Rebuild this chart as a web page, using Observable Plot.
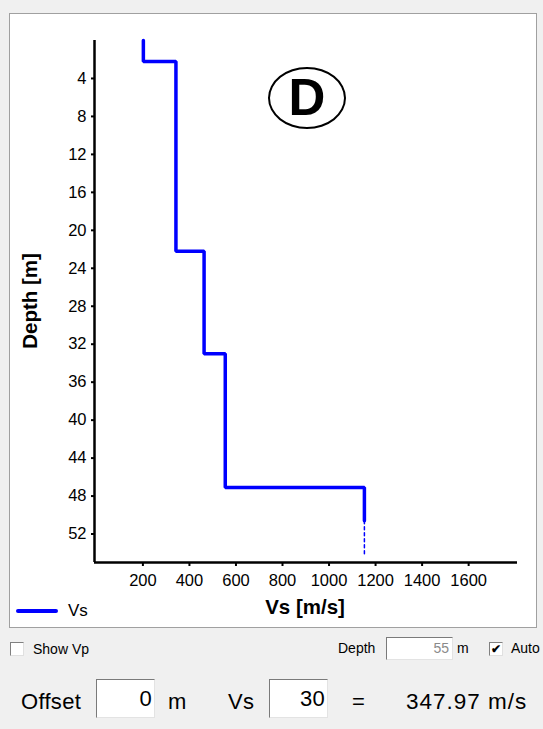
<!DOCTYPE html>
<html>
<head>
<meta charset="utf-8">
<script src="https://cdn.jsdelivr.net/npm/d3@7"></script>
<script src="https://cdn.jsdelivr.net/npm/@observablehq/plot@0.6"></script>
<style>
  html, body { margin: 0; padding: 0; background: #f0f0f0; }
  body { width: 543px; height: 729px; overflow: hidden; font-family: "Liberation Sans", Arial, sans-serif; }
  #wrap { position: relative; width: 543px; height: 729px; }
  #panel { position: absolute; left: 9px; top: 13px; width: 528px; height: 615px; background: #fff; border: 1px solid #a0a0a0; box-sizing: border-box; }
  #chart { position: absolute; left: 0; top: 0; }
  .abs { position: absolute; white-space: nowrap; color: #000; }
  .box { position: absolute; background: #fff; border-top: 1px solid #7a7a7a; border-left: 1px solid #7a7a7a; border-right: 1px solid #e3e3e3; border-bottom: 1px solid #e3e3e3; box-sizing: border-box; text-align: right; }
  .chk { position: absolute; width: 14px; height: 14px; background: #fff; border-top: 1px solid #808080; border-left: 1px solid #808080; border-right: 1px solid #e0e0e0; border-bottom: 1px solid #e0e0e0; box-sizing: border-box; font-size: 12px; line-height: 12px; text-align: center; font-weight: bold; }
</style>
</head>
<body>
<div id="wrap">
  <div id="panel"></div>
  <div id="chart"></div>
</div>
<script>
// ---- data ----
const layerTop    = [0, 2.2, 22.2, 33.0, 47.1];
const layerBottom = [2.2, 22.2, 33.0, 47.1, 50.6];
const layerVs     = [202, 342, 463, 554, 1152];
const halfSpaceDashEnd = 54.2;
const depthTicks = [4, 8, 12, 16, 20, 24, 28, 32, 36, 40, 44, 48, 52];
const vsTicks = [200, 400, 600, 800, 1000, 1200, 1400, 1600];
const depthMax = 55;
const vsDomain = [-8, 1810];
const seriesName = "Vs";
const xLabel = "Vs [m/s]";
const yLabel = "Depth [m]";
const badge = "D";
const offsetVal = "0";
const vsDepth = "30";
const vsResult = "347.97";
const depthField = "55";

// step profile points
const profile = [];
layerVs.forEach((v, i) => {
  profile.push({vs: v, depth: layerTop[i]});
  profile.push({vs: v, depth: layerBottom[i]});
});
const lastVs = layerVs[layerVs.length - 1];
const dashed = [
  {vs: lastVs, depth: layerBottom[layerBottom.length - 1]},
  {vs: lastVs, depth: halfSpaceDashEnd}
];

const chart = Plot.plot({
  width: 543,
  height: 729,
  marginLeft: 94,
  marginTop: 40,
  marginRight: 26,
  marginBottom: 167,
  style: {background: "transparent", fontFamily: "Liberation Sans, Arial, sans-serif", fontSize: "16.5px", color: "#000", overflow: "visible"},
  x: {domain: vsDomain},
  y: {domain: [0, depthMax], reverse: true},
  marks: [
    Plot.axisY({ticks: depthTicks, tickSize: 3, tickPadding: 5, label: null, strokeWidth: 2, tickFormat: d => String(d)}),
    Plot.axisX({ticks: vsTicks, tickSize: 4, tickPadding: 8, label: null, strokeWidth: 2, tickFormat: d => String(d)}),
    Plot.ruleX([vsDomain[0]], {y1: 0, y2: depthMax, stroke: "#000", strokeWidth: 2.5}),
    Plot.ruleY([depthMax], {x1: vsDomain[0], x2: vsDomain[1], stroke: "#000", strokeWidth: 2.5}),
    Plot.line(profile, {x: "vs", y: "depth", stroke: "#0000ff", strokeWidth: 3.5, strokeLinejoin: "miter", strokeLinecap: "round"}),
    Plot.line(dashed, {x: "vs", y: "depth", stroke: "#0000ff", strokeWidth: 1.5, strokeDasharray: "3,3"})
  ]
});
document.getElementById("chart").appendChild(chart);

const wrap = document.getElementById("wrap");
function add(html) { wrap.insertAdjacentHTML("beforeend", html); }

// axis titles
add(`<div class="abs" style="left:30px;top:301px;transform:translate(-50%,-50%) rotate(-90deg);font-weight:bold;font-size:20.5px;">${yLabel}</div>`);
add(`<div class="abs" style="left:305px;top:607px;transform:translate(-50%,-50%);font-weight:bold;font-size:20.5px;">${xLabel}</div>`);
// legend
add(`<div class="abs" style="left:16px;top:609px;width:42px;height:3.5px;background:#0000ff;border-radius:2px;"></div>`);
add(`<div class="abs" style="left:68px;top:601px;font-size:17px;">${seriesName}</div>`);
// badge
add(`<div class="abs" style="left:268px;top:67px;width:78px;height:62px;border:2.5px solid #000;border-radius:50%;box-sizing:border-box;text-align:center;font-weight:bold;font-size:51px;line-height:58px;">${badge}</div>`);

// controls row 1
add(`<div class="chk" style="left:10px;top:642px;"></div>`);
add(`<div class="abs" style="left:33px;top:641px;font-size:14px;">Show Vp</div>`);
add(`<div class="abs" style="left:338px;top:640px;font-size:14px;">Depth</div>`);
add(`<div class="box" style="left:386px;top:637px;width:67px;height:23px;font-size:14px;line-height:21px;padding-right:3px;color:#8a8a8a;">${depthField}</div>`);
add(`<div class="abs" style="left:457px;top:640px;font-size:14px;">m</div>`);
add(`<div class="chk" style="left:489px;top:642px;">&#10004;</div>`);
add(`<div class="abs" style="left:511px;top:640px;font-size:14px;">Auto</div>`);

// controls row 2
const r2 = "font-size:22px;letter-spacing:0.3px;";
add(`<div class="abs" style="left:21px;top:689px;${r2}">Offset</div>`);
add(`<div class="box" style="left:96px;top:679px;width:59px;height:39px;${r2}line-height:37px;padding-right:2px;">${offsetVal}</div>`);
add(`<div class="abs" style="left:168px;top:689px;${r2}">m</div>`);
add(`<div class="abs" style="left:228px;top:689px;${r2}">Vs</div>`);
add(`<div class="box" style="left:269px;top:679px;width:59px;height:39px;${r2}line-height:37px;padding-right:2px;">${vsDepth}</div>`);
add(`<div class="abs" style="left:352px;top:689px;${r2}">=</div>`);
add(`<div class="abs" style="left:406px;top:689px;font-size:22.5px;letter-spacing:1px;">${vsResult} m/s</div>`);
</script>
</body>
</html>
